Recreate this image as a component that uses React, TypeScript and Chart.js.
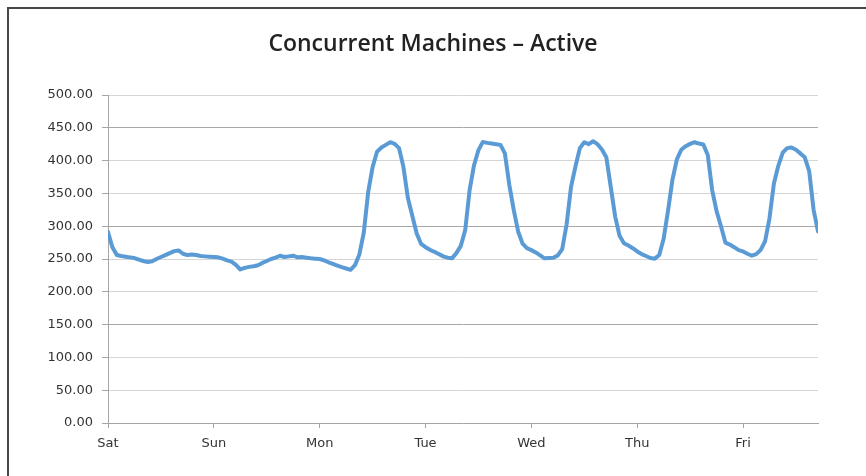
import React, { useEffect, useRef } from 'react';
import { Chart, registerables } from 'chart.js';

Chart.register(...registerables);

const TITLE = 'Concurrent Machines – Active';
const DAY_LABELS = ['Sat', 'Sun', 'Mon', 'Tue', 'Wed', 'Thu', 'Fri'];
const HOURS_PER_DAY = 24;
const LAST_HOUR = 161;
const Y_MIN = 0;
const Y_MAX = 500;
const Y_STEP = 50;

// hourly values for each day
const SAT = [291, 268, 256, 254.5, 253.5, 252.5, 251.5, 249, 247, 245.5, 246.5, 250, 253, 256, 259, 262, 263, 258, 256, 257, 256, 254.5, 254, 253.5];
const SUN = [253, 252.5, 250.5, 248, 246, 241, 234, 236.5, 238, 239, 240.5, 244, 247, 250, 252, 255, 253, 254, 255, 252.5, 253, 252, 251, 250.5];
const MON = [250, 248, 245, 242.5, 240, 237.5, 235.5, 233.5, 240.5, 257, 290, 352, 390, 413.6, 420, 424, 428, 425.5, 419, 390, 343, 316, 289, 273];
const TUE = [268, 264, 261, 257.5, 254, 252, 251, 259, 270, 294, 355, 393, 416, 428.5, 427, 426, 425, 424, 411, 363, 325, 292, 273.5, 266.5];
const WED = [263.5, 260, 255.5, 251, 251.5, 252, 255.5, 265, 303, 360, 391, 419, 428, 425, 429.5, 425, 417, 405, 360, 315, 285.5, 274, 270.5, 266.5];
const THU = [261.5, 257.5, 254.5, 251.5, 250.5, 256, 281, 324, 371, 402, 416.5, 422, 425.5, 428, 426, 424.5, 408.5, 355, 323, 300, 275, 272, 268, 263.5];
const FRI = [261.5, 258, 255, 257.5, 264, 277, 312, 365, 392, 412, 419, 420, 416.5, 411, 405, 384, 325, 292];

const DARK_GRID_VALUES = [450, 300, 150];

export default function App() {
  const ref = useRef<HTMLCanvasElement>(null);

  useEffect(() => {
    document.body.style.margin = '0';
    const values = [...SAT, ...SUN, ...MON, ...TUE, ...WED, ...THU, ...FRI];
    const points = values.map((v, i) => ({ x: i, y: v }));
    const tickFont = { family: '"DejaVu Sans", sans-serif', size: 13 };
    const chart = new Chart(ref.current as HTMLCanvasElement, {
      type: 'line',
      data: {
        datasets: [
          {
            data: points,
            borderColor: '#5b9bd5',
            borderWidth: 4,
            pointRadius: 0,
            tension: 0,
            fill: false,
            borderJoinStyle: 'round',
            borderCapStyle: 'round',
          },
        ],
      },
      options: {
        animation: false,
        responsive: false,
        layout: { padding: { left: 0, right: 48, top: 95, bottom: 0 } },
        plugins: {
          legend: { display: false },
          title: { display: false },
          tooltip: { enabled: false },
        },
        scales: {
          x: {
            type: 'linear',
            min: 0,
            max: LAST_HOUR,
            afterBuildTicks: (s: any) => {
              s.ticks = DAY_LABELS.map((_, i) => ({ value: i * HOURS_PER_DAY }));
            },
            afterFit: (s: any) => {
              s.height = 53;
            },
            ticks: {
              autoSkip: false,
              maxRotation: 0,
              padding: 8,
              color: '#333333',
              font: tickFont,
              callback: (v: any) => DAY_LABELS[Math.round(Number(v) / HOURS_PER_DAY)],
            },
            grid: {
              drawOnChartArea: false,
              drawTicks: true,
              tickLength: 5,
              tickColor: '#a6a6a6',
            },
            border: { color: '#a6a6a6', width: 1 },
          },
          y: {
            min: Y_MIN,
            max: Y_MAX,
            afterFit: (s: any) => {
              s.width = 108;
            },
            ticks: {
              stepSize: Y_STEP,
              padding: 9,
              color: '#333333',
              font: tickFont,
              callback: (v: any) => Number(v).toFixed(2),
            },
            grid: {
              color: (c: any) => (DARK_GRID_VALUES.includes(c.tick?.value) ? '#a8a8a8' : '#d6d6d6'),
              tickLength: 6,
              tickColor: '#a6a6a6',
            },
            border: { color: '#a6a6a6', width: 1 },
          },
        },
      },
    });
    return () => chart.destroy();
  }, []);

  return (
    <div style={{ position: 'relative', width: 866, height: 476, overflow: 'hidden', background: '#fff' }}>
      <div
        style={{
          position: 'absolute',
          left: 7,
          top: 7,
          width: 900,
          height: 500,
          borderTop: '2px solid #474747',
          borderLeft: '2px solid #474747',
        }}
      />
      <canvas ref={ref} width={866} height={476} style={{ position: 'absolute', left: 0, top: 0, display: 'block' }} />
      <div
        style={{
          position: 'absolute',
          left: 0,
          width: 866,
          top: 27,
          textAlign: 'center',
          fontFamily: '"Open Sans", sans-serif',
          fontWeight: 600,
          fontSize: 23,
          lineHeight: '30px',
          color: '#222222',
          whiteSpace: 'nowrap',
        }}
      >
        {TITLE}
      </div>
    </div>
  );
}
